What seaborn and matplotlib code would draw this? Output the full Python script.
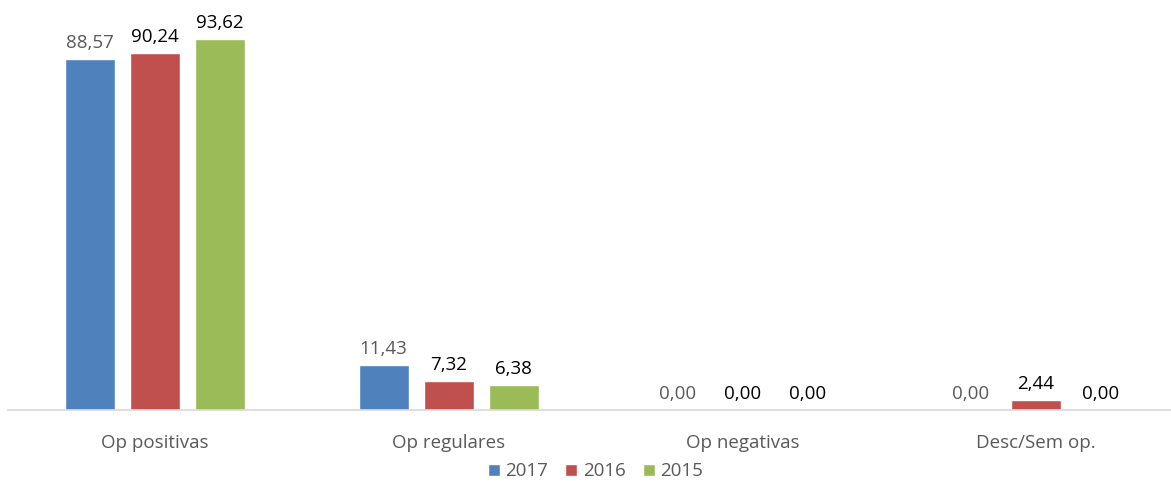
import matplotlib
matplotlib.use('Agg')
import matplotlib.pyplot as plt
import numpy as np
import pandas as pd
import seaborn as sns

categories = ['Op positivas', 'Op regulares', 'Op negativas', 'Desc/Sem op.']
years = ['2017', '2016', '2015']
v2017 = [88.57, 11.43, 0.00, 0.00]
v2016 = [90.24, 7.32, 0.00, 2.44]
v2015 = [93.62, 6.38, 0.00, 0.00]

colors = ['#4F81BD', '#C0504D', '#9BBB59']
label_colors = ['#595959', '#000000', '#000000']

data = pd.DataFrame({
    'cat': categories * 3,
    'year': [y for y in years for _ in categories],
    'val': v2017 + v2016 + v2015,
})

sns.set_style('white')
plt.rcParams['font.family'] = ['Open Sans', 'DejaVu Sans']

fig = plt.figure(figsize=(11.71, 4.83), dpi=100)
ax = fig.add_axes([0.007, 0.151, 1.003, 0.82])

sns.barplot(data=data, x='cat', y='val', hue='year', palette=colors,
            saturation=1, width=0.664, gap=0.23, ax=ax, legend=True,
            errorbar=None)

for cont, lc in zip(ax.containers, label_colors):
    labs = [f'{b.get_height():.2f}'.replace('.', ',') for b in cont]
    ax.bar_label(cont, labels=labs, padding=5, fontsize=13.5, color=lc)

ax.set_ylim(0, 100)
ax.set_xlim(-0.5, 3.5)
ax.set_yticks([])
ax.set_xlabel('')
ax.set_ylabel('')
for s in ['top', 'right', 'left']:
    ax.spines[s].set_visible(False)
ax.spines['bottom'].set_color('#d9d9d9')
ax.spines['bottom'].set_linewidth(1.2)
ax.tick_params(axis='x', length=0, pad=17, labelsize=13.5, labelcolor='#595959')

leg = ax.legend(loc='center', bbox_to_anchor=(0.5, -0.155), ncol=3, frameon=False,
                fontsize=13.5, handlelength=0.65, handleheight=0.65, handletextpad=0.3,
                columnspacing=0.9, borderpad=0.2)
for t in leg.get_texts():
    t.set_color('#595959')

fig.savefig('out.png', dpi=100)
